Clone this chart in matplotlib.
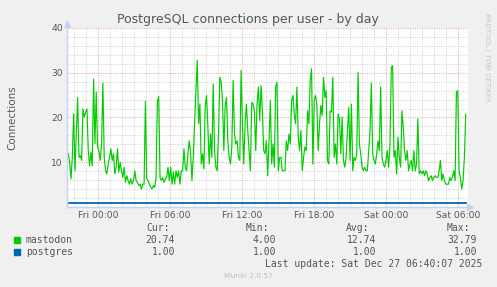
import numpy as np
import matplotlib
matplotlib.use("Agg")
import matplotlib.pyplot as plt
from matplotlib.ticker import MultipleLocator

# munin "postgres_users" day graph
# hours relative to Fri 00:00
t_start, t_end = -2.58, 30.64
x_min, x_max = -2.58, 30.83

mastodon = [
    10.7, 11.9, 10.0, 6.3, 11.1, 20.8, 8.1, 16.3, 24.5, 11.1, 11.5, 10.4, 21.9, 20.1, 21.2, 21.9,
    12.6, 9.2, 12.2, 9.2, 28.6, 14.1, 25.7, 13.4, 12.6, 10.4, 14.1, 27.7, 11.1, 8.1, 7.4, 9.6,
    11.1, 13.0, 10.4, 11.9, 7.4, 8.9, 13.0, 7.8, 10.0, 8.1, 6.6, 8.9, 5.5, 7.0, 5.9, 5.1,
    6.3, 5.1, 5.9, 8.1, 5.9, 5.5, 4.8, 5.1, 4.0, 5.1, 5.1, 23.6, 6.3, 5.9, 5.1, 4.4,
    4.0, 4.8, 4.4, 6.6, 23.6, 24.7, 6.6, 5.9, 6.6, 5.5, 6.3,
    6.6, 8.9, 5.9, 8.9, 5.1, 7.8, 5.1, 8.1, 6.6, 8.1, 5.1, 8.1, 8.1, 13.0, 8.9, 8.1,
    11.9, 14.8, 12.2, 5.9, 11.1, 18.6, 26.0, 32.79, 18.6, 23.0, 9.6, 11.9, 8.5, 22.7, 24.9, 17.8,
    9.6, 16.3, 11.1, 27.5, 12.6, 8.9, 8.1, 16.3, 29.0, 27.9, 23.8, 12.6, 22.7, 24.5, 14.8, 11.1,
    9.6, 13.4, 28.3, 16.3, 14.1, 14.8, 11.1, 10.4, 30.5, 18.6, 9.6, 18.6, 23.0, 17.1, 12.6, 8.1,
    23.4, 23.0, 21.5, 12.6, 23.0, 26.8, 19.3, 27.1, 21.5, 12.6, 11.9, 14.8,
    7.0, 14.8, 23.8, 9.6, 14.1, 8.9, 26.8, 27.9, 8.1, 11.1, 11.1, 8.1, 8.1, 8.1, 14.8, 12.6,
    16.3, 14.1, 23.8, 24.9, 20.8, 18.6, 26.8, 15.6, 12.6, 17.1, 8.1, 11.1, 13.4, 12.6, 21.5, 18.6,
    28.3, 30.9, 9.6, 23.8, 24.9, 23.0, 12.6, 18.6, 22.7, 20.4, 29.0, 24.5, 26.0, 10.4, 9.6, 21.5,
    21.2, 29.0, 11.1, 14.1, 9.6, 20.8, 19.7, 11.9, 20.1, 10.4, 8.9, 11.1, 17.1, 22.3, 10.4, 23.0,
    8.1, 11.1, 10.4, 11.9, 30.1, 14.1, 11.9, 8.9, 8.1, 8.9, 8.1,
    8.1, 12.6, 17.1, 27.7, 11.9, 10.4, 9.6, 11.9, 14.8, 12.6, 26.8, 11.1, 9.6, 8.9, 10.4, 12.6,
    8.9, 14.1, 31.2, 31.6, 11.1, 12.6, 7.4, 15.6, 11.1, 8.9, 21.5, 17.8, 12.6, 10.4, 12.6, 8.1,
    9.6, 10.4, 8.1, 12.6, 8.1, 9.6, 19.7, 7.4, 8.1, 7.4, 8.1, 7.0, 8.1, 7.4, 5.9, 6.6,
    7.0, 5.9, 6.6, 7.0, 6.6, 6.6, 8.1, 10.4, 5.9, 7.4, 5.9, 5.1, 5.1, 5.1, 6.6, 5.9,
    6.6, 8.1, 5.9, 25.7, 26.0, 8.1, 6.6, 4.0, 5.9, 11.1, 20.74,
]
postgres_level = 1.0

x_ticks = [0, 6, 12, 18, 24, 30]
x_labels = ["Fri 00:00", "Fri 06:00", "Fri 12:00", "Fri 18:00", "Sat 00:00", "Sat 06:00"]

legend_names = ["mastodon", "postgres"]
legend_colors = ["#00CC00", "#0066B3"]
stat_cur = ["20.74", "1.00"]
stat_min = ["4.00", "1.00"]
stat_avg = ["12.74", "1.00"]
stat_max = ["32.79", "1.00"]

t = np.linspace(t_start, t_end, len(mastodon))

W, H = 497, 287
fig = plt.figure(figsize=(W / 100, H / 100), dpi=100, facecolor="#F0F0F0")
ax = fig.add_axes([67 / W, 1 - 207 / H, 401 / W, 179 / H], facecolor="white")

ax.set_xlim(x_min, x_max)
ax.set_ylim(0, 40)

# grid: grey dotted minor, red dotted major
ax.xaxis.set_major_locator(MultipleLocator(3))
ax.xaxis.set_minor_locator(MultipleLocator(1))
ax.yaxis.set_major_locator(MultipleLocator(10))
ax.yaxis.set_minor_locator(MultipleLocator(2))
ax.grid(which="minor", color="#D4D4D4", linestyle=(0, (1, 1.3)), linewidth=0.75)
ax.grid(which="major", color="#E6A8A8", linestyle=(0, (1, 1.3)), linewidth=0.75)
ax.set_axisbelow(True)

ax.set_xticks(x_ticks, labels=x_labels)
ax.set_xticks(np.arange(-2, 31, 1), minor=True)
ax.set_yticks([10, 20, 30, 40])
ax.tick_params(which="both", length=0, colors="#555555", labelsize=6.6, pad=3)

for s in ["top", "right"]:
    ax.spines[s].set_visible(False)
for s in ["left", "bottom"]:
    ax.spines[s].set_color("#C8D0F4")
    ax.spines[s].set_linewidth(1)

ax.plot(t, mastodon, color=legend_colors[0], linewidth=0.85)
ax.plot([t_start, t_end], [postgres_level, postgres_level], color=legend_colors[1], linewidth=1.3)

# axis arrows
ax.plot([x_min], [40.9], marker="^", ms=4, color="#C8D0F4", clip_on=False)
ax.plot([x_max + 0.15], [0], marker=">", ms=4, color="#C8D0F4", clip_on=False)

ax.set_ylabel("Connections", fontsize=7.5, color="#555555", labelpad=24)

fig.text(248 / W, 1 - 20 / H, "PostgreSQL connections per user - by day",
         ha="center", va="center", fontsize=9, color="#555555")
fig.text(487 / W, 1 - 57 / H, "RRDTOOL / TOBI OETIKER", rotation=270,
         ha="center", va="center", fontsize=5, color="#C8C8C8")

# legend block
mono = dict(family="DejaVu Sans Mono", fontsize=7, color="#555555", va="center")
for txt, x in zip(["Cur:", "Min:", "Avg:", "Max:"], [146, 246, 346, 447]):
    fig.text(x / W, 1 - 228 / H, txt, ha="left", **mono)
for i, name in enumerate(legend_names):
    y = 240 + 12 * i
    fig.patches.append(plt.Rectangle((14 / W, 1 - (y + 3) / H), 6 / W, 6 / H,
                                     transform=fig.transFigure, color=legend_colors[i]))
    fig.text(26 / W, 1 - y / H, name, ha="left", **mono)
    for vals, x in zip([stat_cur, stat_min, stat_avg, stat_max], [175, 276, 376, 477]):
        fig.text(x / W, 1 - y / H, vals[i], ha="right", **mono)
fig.text(482 / W, 1 - 264 / H, "Last update: Sat Dec 27 06:40:07 2025", ha="right", **mono)
fig.text(248 / W, 1 - 276 / H, "Munin 2.0.57", ha="center", va="center",
         fontsize=5.4, color="#C0C0C0")

fig.savefig("out.png", dpi=100, facecolor=fig.get_facecolor())
